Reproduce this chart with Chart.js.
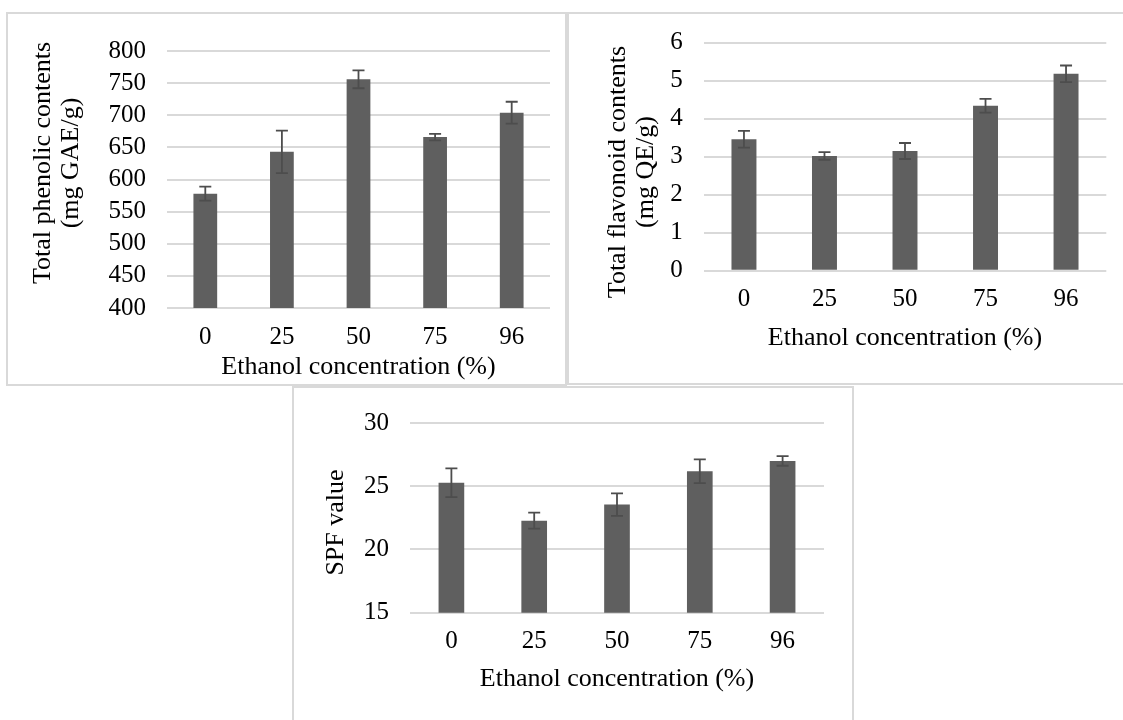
<!DOCTYPE html>
<html>
<head>
<meta charset="utf-8">
<script src="https://cdn.jsdelivr.net/npm/chart.js@4.4.1/dist/chart.umd.min.js"></script>
<style>
  html, body { margin: 0; padding: 0; background: #ffffff; width: 1123px; height: 720px; overflow: hidden; }
  .panel { position: absolute; box-sizing: border-box; border: 2px solid #d9d9d9; }
  canvas { position: absolute; }
</style>
</head>
<body>
<div class="panel" style="left:6px;top:12px;width:561px;height:374px;"></div>
<div class="panel" style="left:567px;top:12px;width:600px;height:373px;"></div>
<div class="panel" style="left:292px;top:386px;width:562px;height:400px;"></div>

<canvas id="c1" width="567" height="386" style="left:0px;top:0px;"></canvas>
<canvas id="c2" width="556" height="386" style="left:567px;top:0px;"></canvas>
<canvas id="c3" width="560" height="333" style="left:293px;top:387px;"></canvas>

<script>
// ---- data ----
const categories = ['0', '25', '50', '75', '96'];
const xTitle = 'Ethanol concentration (%)';

const phenolic = [578, 643, 756, 666, 704];
const phenolicErr = [11, 33, 14, 5, 17];
const phenolicTitle = ['Total phenolic contents', '(mg GAE/g)'];
const phenolicTicks = { min: 400, max: 800, step: 50 };

const flavonoid = [3.46, 3.02, 3.15, 4.34, 5.18];
const flavonoidErr = [0.22, 0.10, 0.21, 0.18, 0.22];
const flavonoidTitle = ['Total flavonoid contents', '(mg QE/g)'];
const flavonoidTicks = { min: 0, max: 6, step: 1 };

const spf = [25.28, 22.28, 23.55, 26.19, 27.0];
const spfErr = [1.14, 0.63, 0.89, 0.94, 0.38];
const spfTitle = ['SPF value'];
const spfTicks = { min: 15, max: 30, step: 5 };

// ---- plugins ----
const errorBars = {
  id: 'errorBars',
  afterDatasetsDraw(chart, args, opts) {
    const ctx = chart.ctx;
    const y = chart.scales.y;
    const meta = chart.getDatasetMeta(0);
    const errs = opts.errors || [];
    const vals = chart.data.datasets[0].data;
    ctx.save();
    ctx.strokeStyle = '#4d4d4d';
    ctx.lineWidth = 1.8;
    meta.data.forEach((bar, i) => {
      const e = errs[i];
      if (e == null) return;
      const x = bar.x;
      const yt = y.getPixelForValue(vals[i] + e);
      const yb = y.getPixelForValue(vals[i] - e);
      ctx.beginPath();
      ctx.moveTo(x, yt); ctx.lineTo(x, yb);
      ctx.moveTo(x - 6, yt); ctx.lineTo(x + 6, yt);
      ctx.moveTo(x - 6, yb); ctx.lineTo(x + 6, yb);
      ctx.stroke();
    });
    ctx.restore();
  }
};

const yTitlePlugin = {
  id: 'yTitle',
  afterDraw(chart, args, opts) {
    const ctx = chart.ctx;
    ctx.save();
    ctx.fillStyle = '#000';
    ctx.font = '26px "Liberation Serif"';
    ctx.textAlign = 'center';
    ctx.textBaseline = 'alphabetic';
    ctx.translate(opts.x, opts.y);
    ctx.rotate(-Math.PI / 2);
    opts.lines.forEach((t, i) => ctx.fillText(t, 0, i * opts.spacing));
    ctx.restore();
  }
};

function makeChart(id, values, errs, ticks, titleLines, g) {
  const cv = document.getElementById(id);
  return new Chart(cv, {
    type: 'bar',
    data: {
      labels: categories,
      datasets: [{
        data: values,
        backgroundColor: '#5f5f5f',
        borderWidth: 0,
        categoryPercentage: 1.0,
        barPercentage: 0.31
      }]
    },
    plugins: [errorBars, yTitlePlugin],
    options: {
      responsive: false,
      animation: false,
      devicePixelRatio: 1,
      layout: { padding: { left: 0, top: g.top, right: g.right, bottom: 0 } },
      plugins: {
        legend: { display: false },
        tooltip: { enabled: false },
        errorBars: { errors: errs },
        yTitle: { lines: titleLines, x: g.titleX, y: g.titleY, spacing: 28 }
      },
      scales: {
        x: {
          grid: { display: false, drawTicks: false },
          border: { display: false },
          ticks: { color: '#000', font: { family: 'Liberation Serif', size: 25 }, padding: g.xTickPad, maxRotation: 0, autoSkip: false },
          title: { display: true, text: xTitle, color: '#000', font: { family: 'Liberation Serif', size: 26 }, padding: { top: 0, bottom: g.xTitlePad } },
          afterFit(s) { s.height = g.xHeight; }
        },
        y: {
          min: ticks.min, max: ticks.max,
          grid: { color: '#d9d9d9', lineWidth: 2, drawTicks: false },
          border: { display: false },
          ticks: { stepSize: ticks.step, autoSkip: false, color: '#000', font: { family: 'Liberation Serif', size: 25 }, padding: 21 },
          afterFit(s) { s.width = g.yWidth; }
        }
      }
    }
  });
}

makeChart('c1', phenolic, phenolicErr, phenolicTicks, phenolicTitle,
  { top: 51, right: 17, yWidth: 167, xHeight: 78, xTickPad: 14.5, xTitlePad: 3.4, titleX: 50, titleY: 163 });
makeChart('c2', flavonoid, flavonoidErr, flavonoidTicks, flavonoidTitle,
  { top: 42.7, right: 16.7, yWidth: 136.7, xHeight: 115.3, xTickPad: 13.3, xTitlePad: 32.4, titleX: 57.7, titleY: 172 });
makeChart('c3', spf, spfErr, spfTicks, spfTitle,
  { top: 28.7, right: 29, yWidth: 117, xHeight: 107.3, xTickPad: 13.8, xTitlePad: 24.9, titleX: 49.7, titleY: 135.5 });
</script>
</body>
</html>
